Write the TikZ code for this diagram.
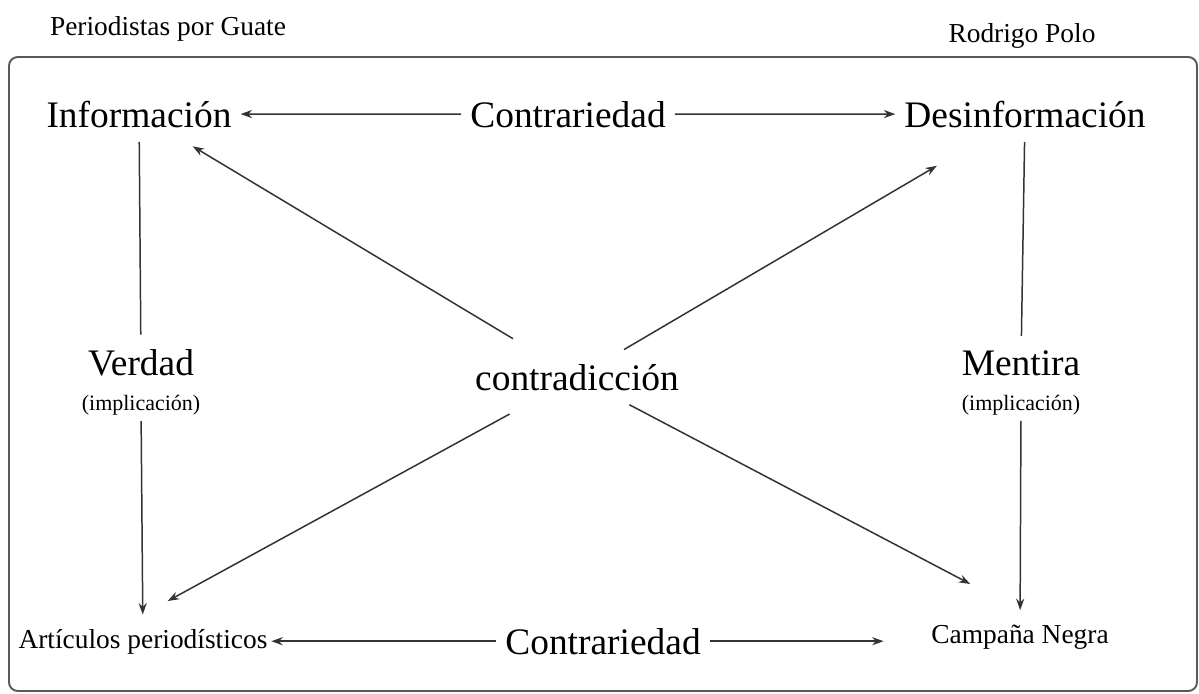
\documentclass[tikz,border=0pt]{standalone}
\usepackage{fontspec}
\setmainfont{Liberation Serif}
\usetikzlibrary{arrows.meta,positioning}

\begin{document}
\begin{tikzpicture}[
    x=0.02cm, y=-0.02cm,
    >={Stealth[length=6.5pt,width=4.6pt]},
    concept/.style={
        font=\fontsize{21.3}{25}\selectfont,
        inner xsep=5pt, inner ysep=8pt, anchor=base
    },
    term/.style={
        font=\fontsize{15.6}{19}\selectfont,
        inner xsep=2pt, inner ysep=8pt, anchor=base
    },
    note/.style={font=\fontsize{12.5}{15}\selectfont, inner sep=3pt},
    link/.style={draw=black!80, line width=0.85pt}
]
    \useasboundingbox (0,0) rectangle (1199,693);
    \draw[black!65, line width=1.1pt, rounded corners=5pt] (9,57) rectangle (1197,691);

    % Headers
    \node[term] (guate) at (168,35) {Periodistas por Guate};
    \node[term] (polo) at (1022,42) {Rodrigo Polo};

    % Square of opposition
    \node[concept] (info) at (139,127) {Información};
    \node[concept] (ctop) at (568,127) {Contrariedad};
    \node[concept] (desinf) at (1025,127) {Desinformación};
    \node[concept] (cdx) at (577,390) {contradicción};
    \node[concept] (verdad) at (141,375) {Verdad};
    \node[note,below=0pt of verdad] (vimp) {(implicación)};
    \node[concept] (mentira) at (1021,375) {Mentira};
    \node[note,below=0pt of mentira] (mimp) {(implicación)};
    \node[term] (art) at (143,648) {Artículos periodísticos};
    \node[concept] (cbot) at (603,654) {Contrariedad};
    \node[term] (camp) at (1020,643) {Campaña Negra};

    % Contrariedad
    \draw[link,->] (ctop) -- (info);
    \draw[link,->] (ctop) -- (desinf);
    \draw[link,->] (cbot) -- (cbot -| art.east);
    \draw[link,->,shorten >=25pt] (cbot) -- (cbot -| camp.west);

    % Implicacion
    \foreach \a/\b in {info/verdad,desinf/mentira} {
        \draw[link] (\a) -- (\b);
    }
    \foreach \a/\b in {vimp/art,mimp/camp} {
        \draw[link,->] (\a) -- (\b);
    }

    % Contradiccion
    \draw[link,->,shorten <=12pt,shorten >=5pt] (cdx) -- (info);
    \draw[link,->,shorten >=27pt] (cdx) -- (desinf);
    \draw[link,->,shorten <=11pt,shorten >=16pt] (cdx) -- (art.north);
    \draw[link,->,shorten >=32pt] (cdx) -- (camp.north);
\end{tikzpicture}
\end{document}
